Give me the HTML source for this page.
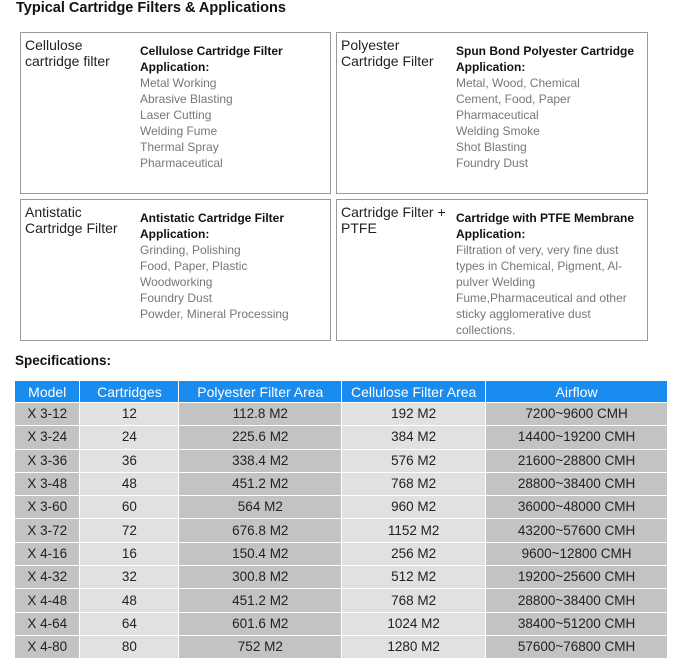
<!DOCTYPE html>
<html><head><meta charset="utf-8"><style>
body{margin:0;width:685px;height:669px;background:#fff;font-family:"Liberation Sans",Arial,sans-serif;position:relative;overflow:hidden}
h1{position:absolute;left:16px;top:0;margin:0;font-size:14.5px;font-weight:bold;color:#111;line-height:17px}
.box{position:absolute;border:1px solid #999;box-sizing:border-box}
.t{position:absolute;left:4px;top:4px;font-size:14px;color:#222;line-height:16px}
.a{position:absolute;left:119px;top:10px;font-size:12px;line-height:16px;color:#777}
.a b{color:#111}
h2{position:absolute;left:15px;top:353px;margin:0;font-size:13.5px;font-weight:bold;color:#111}
table{position:absolute;left:15px;top:381px;border-collapse:collapse;width:653px;font-size:13.5px;color:#222}
td,th{height:22.3px;padding:0;text-align:center;border-bottom:1.5px solid #fff;border-right:1.5px solid #fff;line-height:16px}
th{background:#1a8cf0;color:#fff;font-weight:normal;font-size:14px;height:21px}
td:nth-child(odd){background:#c3c3c3}
td:nth-child(even){background:#e1e1e1}
</style></head><body>
<h1>Typical Cartridge Filters &amp; Applications</h1>
<div class="box" style="left:20px;top:32px;width:311px;height:162px"><div class="t">Cellulose<br>cartridge filter</div><div class="a"><b>Cellulose Cartridge Filter<br>Application:</b><br>Metal Working<br>Abrasive Blasting<br>Laser Cutting<br>Welding Fume<br>Thermal Spray<br>Pharmaceutical</div></div>
<div class="box" style="left:336px;top:32px;width:312px;height:162px"><div class="t">Polyester<br>Cartridge Filter</div><div class="a"><b>Spun Bond Polyester Cartridge<br>Application:</b><br>Metal, Wood, Chemical<br>Cement, Food, Paper<br>Pharmaceutical<br>Welding Smoke<br>Shot Blasting<br>Foundry Dust</div></div>
<div class="box" style="left:20px;top:199px;width:311px;height:142px"><div class="t">Antistatic<br>Cartridge Filter</div><div class="a"><b>Antistatic Cartridge Filter<br>Application:</b><br>Grinding, Polishing<br>Food, Paper, Plastic<br>Woodworking<br>Foundry Dust<br>Powder, Mineral Processing</div></div>
<div class="box" style="left:336px;top:199px;width:312px;height:142px"><div class="t">Cartridge Filter +<br>PTFE</div><div class="a"><b>Cartridge with PTFE Membrane<br>Application:</b><br>Filtration of very, very fine dust<br>types in Chemical, Pigment, Al-<br>pulver Welding<br>Fume,Pharmaceutical and other<br>sticky agglomerative dust<br>collections.</div></div>
<h2>Specifications:</h2>
<table>
<colgroup><col style="width:65px"><col style="width:99px"><col style="width:163px"><col style="width:144px"><col style="width:182px"></colgroup>
<tr><th>Model</th><th>Cartridges</th><th>Polyester Filter Area</th><th>Cellulose Filter Area</th><th>Airflow</th></tr>
<tr><td>X 3-12</td><td>12</td><td>112.8 M2</td><td>192 M2</td><td>7200~9600 CMH</td></tr>
<tr><td>X 3-24</td><td>24</td><td>225.6 M2</td><td>384 M2</td><td>14400~19200 CMH</td></tr>
<tr><td>X 3-36</td><td>36</td><td>338.4 M2</td><td>576 M2</td><td>21600~28800 CMH</td></tr>
<tr><td>X 3-48</td><td>48</td><td>451.2 M2</td><td>768 M2</td><td>28800~38400 CMH</td></tr>
<tr><td>X 3-60</td><td>60</td><td>564 M2</td><td>960 M2</td><td>36000~48000 CMH</td></tr>
<tr><td>X 3-72</td><td>72</td><td>676.8 M2</td><td>1152 M2</td><td>43200~57600 CMH</td></tr>
<tr><td>X 4-16</td><td>16</td><td>150.4 M2</td><td>256 M2</td><td>9600~12800 CMH</td></tr>
<tr><td>X 4-32</td><td>32</td><td>300.8 M2</td><td>512 M2</td><td>19200~25600 CMH</td></tr>
<tr><td>X 4-48</td><td>48</td><td>451.2 M2</td><td>768 M2</td><td>28800~38400 CMH</td></tr>
<tr><td>X 4-64</td><td>64</td><td>601.6 M2</td><td>1024 M2</td><td>38400~51200 CMH</td></tr>
<tr><td>X 4-80</td><td>80</td><td>752 M2</td><td>1280 M2</td><td>57600~76800 CMH</td></tr>
</table>
</body></html>
